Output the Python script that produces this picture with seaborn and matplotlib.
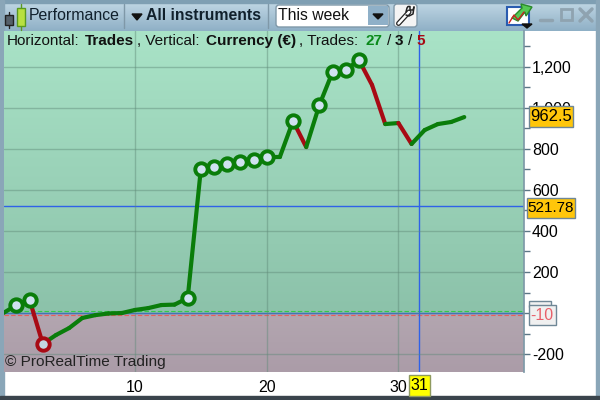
import numpy as np
import pandas as pd
import seaborn as sns
import matplotlib.pyplot as plt
from matplotlib.colors import LinearSegmentedColormap
from matplotlib.patches import Rectangle, FancyBboxPatch, Polygon

trade_no = [0, 1, 2, 3, 4, 5, 6, 7, 8, 9, 10, 11, 12, 13, 14, 15, 16, 17,
            18, 19, 20, 21, 22, 23, 24, 25, 26, 27, 28, 29, 30, 31, 32, 33, 34, 35]
equity = [0, 39, 63, -150, -107, -73, -24, -10, -2, 0, 15, 24, 39, 41, 73, 701, 711, 725,
          733, 745, 760, 760, 935, 808, 1013, 1173, 1183, 1232, 1110, 920, 925, 823, 891, 920, 930, 954]
# trades whose incoming segment lost money
losing_segments = [3, 23, 28, 29, 31]
win_markers = [1, 2, 14, 15, 16, 17, 18, 19, 20, 22, 24, 25, 26, 27]
loss_markers = [3]
y_ticks = [-200, 0, 200, 400, 600, 800, 1000, 1200]
y_labels = ['-200', '', '200', '400', '600', '800', '1,000', '1,200']
y_minor = [-100, 100, 300, 500, 700, 900, 1100, 1300]
x_ticks = [10, 20, 30]
cursor_x = 31.6
average_level = 521.78

GREEN = '#0a7d0a'
RED = '#a80a14'
BLUE = '#2f62e8'
FONT = 'Liberation Sans'

sns.set_theme(style='white')
plt.rcParams['font.family'] = FONT

df = pd.DataFrame({'trade': trade_no, 'equity': equity})

fig = plt.figure(figsize=(6, 4), dpi=100, facecolor='white')

# window chrome lives on a full figure axes in pixel coords
chrome = fig.add_axes([0, 0, 1, 1], zorder=0)
bar = np.linspace(0, 1, 30).reshape(-1, 1)
chrome.imshow(bar, extent=(0, 600, 31, 0), aspect='auto', zorder=1,
              cmap=LinearSegmentedColormap.from_list('bar', ['#c3d9e6', '#8fb0c6']))
chrome.add_patch(Rectangle((0, 0), 600, 3, color='#7f9fb3', zorder=2))
chrome.add_patch(Rectangle((0, 0), 3.5, 400, color='#8aa6b8', zorder=2))
chrome.add_patch(Rectangle((596, 0), 4, 400, color='#8aa6b8', zorder=2))
chrome.add_patch(Rectangle((0, 396), 600, 4, color='#3a444c', zorder=2))
chrome.set_xlim(0, 600)
chrome.set_ylim(400, 0)
chrome.axis('off')

# main plot
ax = fig.add_axes([4 / 600, 1 - 372 / 400, 519.5 / 600, 341 / 400], zorder=1)
x_lo = 10 + (4 - 135) / 13.17
x_hi = 10 + (523.5 - 135) / 13.17
y_hi, y_lo = 1373, -287

pos = np.linspace(0, 1, 100).reshape(-1, 1)
green_map = LinearSegmentedColormap.from_list('g', ['#a9e3c7', '#8cc2aa'])
red_map = LinearSegmentedColormap.from_list('r', ['#b3a6b0', '#ab9ca8'])
ax.imshow(pos, extent=(x_lo, x_hi, 0, y_hi), aspect='auto', cmap=green_map, zorder=0)
ax.imshow(pos, extent=(x_lo, x_hi, y_lo, 0), aspect='auto', cmap=red_map, zorder=0)
ax.set_xlim(x_lo, x_hi)
ax.set_ylim(y_lo, y_hi)

ax.grid(True, color='#5f8a78', alpha=0.45, lw=1)
ax.set_axisbelow(False)

ax.axhline(average_level, color=BLUE, lw=1, zorder=2)
ax.axhline(0, color=BLUE, lw=1, zorder=2)
ax.axhline(8, color='#35c94a', lw=0.8, ls=(0, (4, 2)), zorder=2)
ax.axhline(-8, color='#e8605a', lw=0.8, ls=(0, (4, 2)), zorder=2)
ax.axvline(cursor_x, color=BLUE, lw=1, zorder=2)

for i in range(1, len(df)):
    seg = df.iloc[i - 1:i + 1]
    col = RED if trade_no[i] in losing_segments else GREEN
    sns.lineplot(data=seg, x='trade', y='equity', ax=ax, color=col, lw=3, zorder=3,
                 errorbar=None, sort=False, solid_capstyle='round')

sns.scatterplot(data=df[df.trade.isin(win_markers)], x='trade', y='equity', ax=ax, s=80,
                facecolor='#cfe2f0', edgecolor=GREEN, linewidth=2.8, zorder=4)
sns.scatterplot(data=df[df.trade.isin(loss_markers)], x='trade', y='equity', ax=ax, s=80,
                facecolor='#c3d6e2', edgecolor=RED, linewidth=2.8, zorder=4)

ax.yaxis.tick_right()
ax.set_yticks(y_ticks, y_labels, fontsize=11.5, color='black')
ax.set_yticks(y_minor, minor=True)
ax.set_xticks(x_ticks, ['10', '20', '30'], fontsize=11.5, color='black')
ax.tick_params(axis='both', which='both', length=4, width=1, color='#5c7686')
ax.tick_params(axis='y', which='major', pad=2)
ax.tick_params(axis='x', which='major', pad=1.5)
ax.set_xlabel(None)
ax.set_ylabel(None)
for name, sp in ax.spines.items():
    sp.set_visible(name == 'right')
    sp.set_color('#7f9aa8')

# overlay for labels and header
top = fig.add_axes([0, 0, 1, 1], zorder=2)
top.set_xlim(0, 600)
top.set_ylim(400, 0)
top.axis('off')
top.patch.set_alpha(0)

header = [(7, 'Horizontal:', 'normal', '#111111'), (85, 'Trades', 'bold', '#111111'),
          (137, ', Vertical:', 'normal', '#111111'), (206, 'Currency (€)', 'bold', '#111111'),
          (299, ', Trades:', 'normal', '#111111'), (365.5, '27', 'bold', '#0a8a1a'),
          (387, '/', 'normal', '#111111'), (395, '3', 'bold', '#111111'),
          (408, '/', 'normal', '#111111'), (416, '5', 'bold', RED)]
for hx, s, w, c in header:
    top.text(hx, 41, s, fontsize=11, fontweight=w, color=c, va='center', ha='left')

top.text(29, 16, 'Performance', fontsize=11.4, color='#10202c', va='center')
top.text(146, 16, 'All instruments', fontsize=11.3, fontweight='bold', color='#10202c', va='center')
top.text(5, 362, '© ProRealTime Trading', fontsize=11.1, color='#222222', va='center')

# candlestick icon
top.plot([9, 9], [12, 28], color='#222222', lw=1)
top.add_patch(Rectangle((5, 15), 8, 10, fc='#55606a', ec='#222222', lw=1, zorder=3))
top.plot([21, 21], [4, 30], color='#5a9a20', lw=1)
top.add_patch(Rectangle((16.5, 8), 8.5, 18, fc='#b8e040', ec='#5a9a20', lw=1, zorder=3))

# toolbar separators and arrow
top.plot([123.5, 123.5], [4, 28], color='#7f98a8', lw=1)
top.plot([268, 268], [4, 28], color='#7f98a8', lw=1)
top.add_patch(Polygon([[132, 14], [142, 14], [137, 20]], color='#111111'))

# period dropdown
top.add_patch(FancyBboxPatch((276, 5), 113, 22, boxstyle='round,pad=0,rounding_size=3',
                             fc='white', ec='#7f98a8', lw=1))
top.text(278, 16, 'This week', fontsize=11.3, color='#111111', va='center')
top.add_patch(Rectangle((368, 6), 20, 19, fc='#8fb0c8', ec='none'))
top.add_patch(Polygon([[373, 14], [383, 14], [378, 19]], color='#111111'))

# wrench button
top.add_patch(FancyBboxPatch((394, 4), 23, 23, boxstyle='round,pad=0,rounding_size=3',
                             fc='#f4f4f4', ec='#7f98a8', lw=1))
top.plot([398.5, 409], [23.5, 12], color='#222222', lw=3.6)
top.plot([398.5, 409], [23.5, 12], color='white', lw=1.8)
top.plot([406, 407, 408, 410, 410, 413, 414], [12, 8, 6.5, 6.5, 10, 10, 7], color='#222222', lw=1.1)
top.plot([406, 409, 413, 414], [15, 16, 14, 7], color='#222222', lw=1.1)

# export icon and window buttons
top.add_patch(Rectangle((507, 7), 22, 18, fc='white', ec='#2a5cb0', lw=1.5))
top.plot([509, 514, 518, 524], [23, 15, 20, 12], color='#cc2222', lw=1)
top.add_patch(Polygon([[512, 18], [522, 8], [521, 4], [532, 7], [526, 16], [525, 12], [518, 21]],
                      fc='#55c855', ec='#2a8a2a', lw=1))
top.add_patch(Polygon([[522, 24], [532, 24], [527, 28]], color='#111111'))
top.plot([540, 552], [20, 20], color='#8fa3b0', lw=2.5)
top.add_patch(Rectangle((561, 9), 11, 11, fc='none', ec='#8fa3b0', lw=2))
top.plot([580, 592], [9, 21], color='#8fa3b0', lw=2.5)
top.plot([580, 592], [21, 9], color='#8fa3b0', lw=2.5)


def tag(x, y, w, h, s, fc, tc='black', ec='#6f8796', size=11.5):
    top.add_patch(Rectangle((x, y), w, h, fc=fc, ec=ec, lw=1))
    top.text(x + w / 2, y + h / 2 + 0.5, s, fontsize=size, color=tc, ha='center', va='center')


tag(529, 105.5, 44, 21, '962.5', '#ffc60a', size=12)
tag(527, 197.5, 48, 20, f'{average_level:.2f}', '#ffc60a', size=11)
top.add_patch(Rectangle((528.5, 300.5), 22, 6, fc='#f0f0f0', ec='#6f8796', lw=1))
tag(528.5, 304.5, 27, 20, '-10', '#f0f0f0', tc='#e8606a')
tag(409, 375, 21, 20.5, '31', '#ffff00', ec='#8f9a60')

fig.savefig('out.png', dpi=100)
